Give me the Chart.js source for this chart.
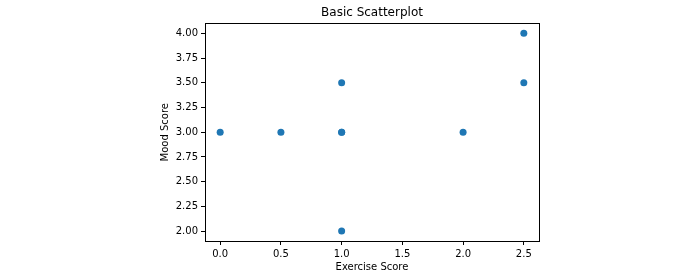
<!DOCTYPE html>
<html>
<head>
<meta charset="utf-8">
<script src="https://cdn.jsdelivr.net/npm/chart.js"></script>
<style>
  html, body { margin: 0; padding: 0; background: #fff; }
  #wrap { width: 700px; height: 278px; }
</style>
</head>
<body>
<div id="wrap"><canvas id="scatter" width="700" height="278"></canvas></div>
<script>
// data
const exerciseScore = [0.0, 0.5, 1.0, 1.0, 1.0, 1.0, 2.0, 2.5, 2.5];
const moodScore     = [3.0, 3.0, 3.0, 3.0, 3.5, 2.0, 3.0, 3.5, 4.0];
const xTicks = [0.0, 0.5, 1.0, 1.5, 2.0, 2.5];
const yTicks = [2.00, 2.25, 2.50, 2.75, 3.00, 3.25, 3.50, 3.75, 4.00];

const font = { family: '"DejaVu Sans", sans-serif', size: 10 };

new Chart("scatter", {
  type: 'scatter',
  data: {
    datasets: [{
      data: exerciseScore.map((x, i) => ({ x: x, y: moodScore[i] })),
      backgroundColor: '#1f77b4',
      borderWidth: 0,
      pointRadius: 3.5,
      pointHoverRadius: 3.5
    }]
  },
  options: {
    responsive: false,
    animation: false,
    layout: { padding: { left: 155, right: 161, top: 1, bottom: 3 } },
    plugins: {
      legend: { display: false },
      tooltip: { enabled: false },
      title: {
        display: true,
        text: 'Basic Scatterplot',
        fullSize: false,
        color: '#000',
        font: { family: font.family, size: 12, lineHeight: 1.2, weight: 'normal' },
        padding: { top: 5, bottom: 3 }
      }
    },
    scales: {
      x: {
        type: 'linear',
        min: -0.125,
        max: 2.625,
        afterBuildTicks: s => { s.ticks = xTicks.map(v => ({ value: v })); },
        afterFit: s => { s.height = 34; },
        ticks: { color: '#000', font: font, padding: 3, maxRotation: 0,
                 callback: v => v.toFixed(1) },
        grid: { drawOnChartArea: false, drawTicks: true, tickLength: 4, color: '#000' },
        border: { color: '#000', width: 1 },
        title: { display: true, text: 'Exercise Score', color: '#000',
                 font: { family: font.family, size: 10 }, padding: { top: 2, bottom: 2 } }
      },
      y: {
        type: 'linear',
        min: 1.9,
        max: 4.1,
        afterBuildTicks: s => { s.ticks = yTicks.map(v => ({ value: v })); },
        afterFit: s => { s.width = 50; },
        ticks: { color: '#000', font: font, padding: 3,
                 callback: v => v.toFixed(2) },
        grid: { drawOnChartArea: false, drawTicks: true, tickLength: 4, color: '#000' },
        border: { color: '#000', width: 1 },
        title: { display: true, text: 'Mood Score', color: '#000',
                 font: { family: font.family, size: 10 }, padding: { top: 4, bottom: 2 } }
      }
    }
  },
  plugins: [{
    id: 'frame',
    afterDraw(chart) {
      const a = chart.chartArea, c = chart.ctx;
      c.save();
      c.strokeStyle = '#000';
      c.lineWidth = 1;
      c.strokeRect(Math.round(a.left) + 0.5, Math.round(a.top) + 0.5,
                   Math.round(a.right - a.left), Math.round(a.bottom - a.top));
      c.restore();
    }
  }]
});
</script>
</body>
</html>
